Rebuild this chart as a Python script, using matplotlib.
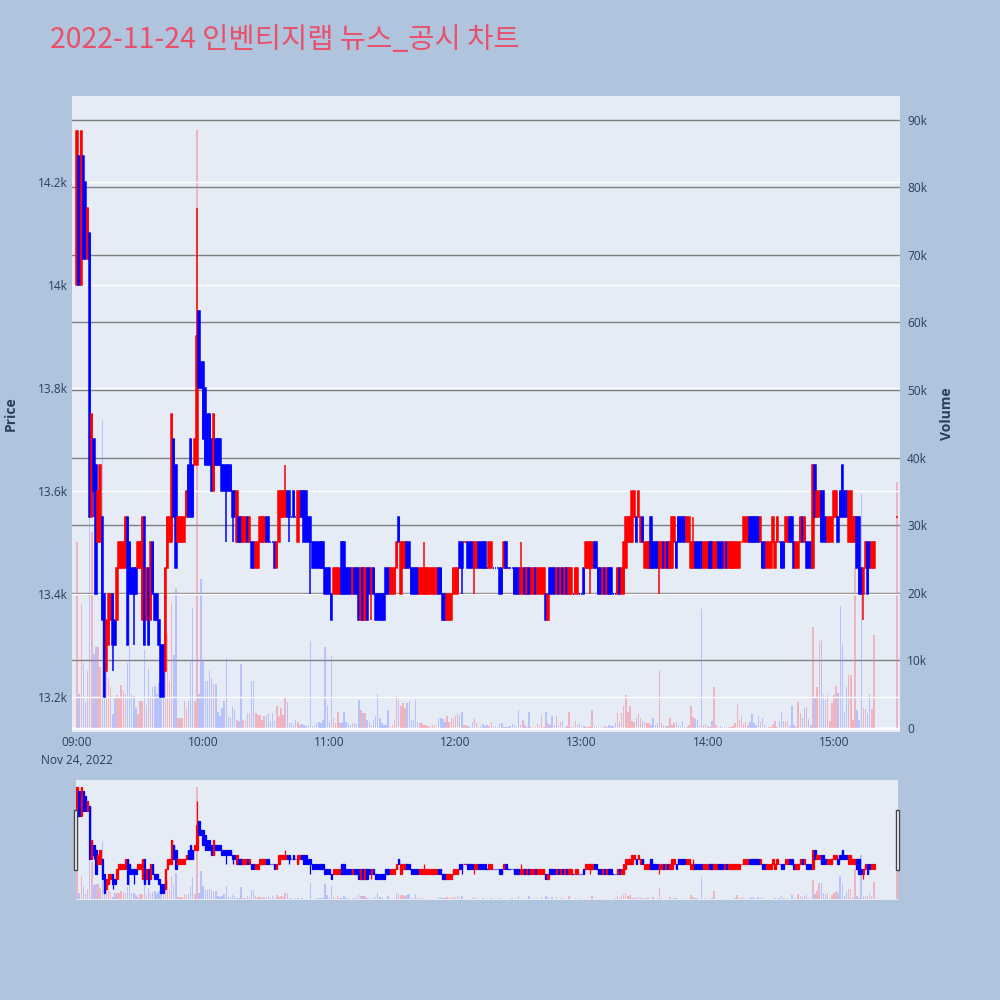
import matplotlib
matplotlib.use('Agg')
import matplotlib.pyplot as plt
import matplotlib.dates as mdates
from matplotlib.patches import Rectangle
from matplotlib.ticker import FuncFormatter, MultipleLocator
from datetime import datetime, timedelta
import pandas as pd

plt.rcParams['font.family'] = ['Open Sans', 'Noto Sans CJK KR', 'DejaVu Sans']

TITLE = '2022-11-24 인벤티지랩 뉴스_공시 차트'

# minute candles 09:00 - 15:19, plus the 15:30 closing auction
open_prices = [
    14000, 14250, 14000, 14250, 14200, 14050, 14100, 13550, 13700, 13650,
    13500, 13500, 13550, 13400, 13250, 13300, 13350, 13400, 13350, 13350,
    13450, 13450, 13450, 13450, 13550, 13500, 13450, 13450, 13450, 13450,
    13450, 13350, 13550, 13350, 13450, 13350, 13500, 13400, 13400, 13350,
    13300, 13300, 13250, 13450, 13500, 13500, 13700, 13650, 13500, 13500,
    13500, 13500, 13550, 13650, 13700, 13650, 13650, 13650, 13950, 13850,
    13850, 13800, 13750, 13750, 13700, 13600, 13700, 13700, 13700, 13650,
    13650, 13650, 13650, 13650, 13600, 13600, 13500, 13550, 13550, 13500,
    13500, 13550, 13500, 13500, 13500, 13450, 13450, 13500, 13500, 13500,
    13550, 13550, 13500, 13500, 13500, 13450, 13500, 13550, 13550, 13550,
    13600, 13600, 13550, 13600, 13550, 13500, 13550, 13600, 13600, 13600,
    13550, 13550, 13500, 13500, 13500, 13500, 13500, 13500, 13450, 13450,
    13450, 13400, 13400, 13400, 13400, 13400, 13500, 13500, 13450, 13450,
    13450, 13400, 13450, 13450, 13450, 13350, 13450, 13350, 13450, 13450,
    13400, 13450, 13400, 13400, 13400, 13400, 13400, 13450, 13450, 13400,
    13400, 13400, 13450, 13550, 13400, 13450, 13450, 13500, 13500, 13450,
    13450, 13450, 13450, 13400, 13400, 13400, 13400, 13400, 13400, 13400,
    13400, 13400, 13450, 13450, 13400, 13400, 13350, 13350, 13350, 13400,
    13400, 13400, 13500, 13500, 13500, 13500, 13500, 13500, 13500, 13450,
    13450, 13500, 13500, 13500, 13500, 13450, 13450, 13450, 13450, 13450,
    13450, 13450, 13450, 13450, 13500, 13450, 13450, 13450, 13450, 13450,
    13450, 13400, 13400, 13450, 13400, 13450, 13400, 13400, 13450, 13400,
    13400, 13400, 13400, 13400, 13350, 13450, 13450, 13450, 13400, 13450,
    13400, 13450, 13400, 13450, 13400, 13400, 13400, 13400, 13400, 13400,
    13400, 13450, 13450, 13450, 13450, 13450, 13500, 13500, 13450, 13450,
    13400, 13450, 13400, 13450, 13450, 13400, 13400, 13400, 13450, 13400,
    13400, 13450, 13500, 13500, 13500, 13550, 13550, 13550, 13500, 13550,
    13450, 13450, 13450, 13550, 13500, 13500, 13500, 13450, 13450, 13500,
    13450, 13500, 13450, 13450, 13500, 13500, 13550, 13550, 13550, 13550,
    13500, 13500, 13450, 13450, 13500, 13500, 13500, 13500, 13450, 13450,
    13450, 13500, 13500, 13450, 13450, 13500, 13500, 13500, 13450, 13500,
    13450, 13450, 13450, 13450, 13450, 13450, 13500, 13500, 13500, 13500,
    13550, 13550, 13550, 13550, 13550, 13500, 13500, 13500, 13450, 13450,
    13450, 13500, 13450, 13500, 13500, 13500, 13500, 13500, 13500, 13550,
    13550, 13500, 13450, 13450, 13500, 13550, 13500, 13500, 13500, 13500,
    13450, 13650, 13550, 13550, 13600, 13600, 13550, 13500, 13500, 13500,
    13550, 13550, 13550, 13600, 13650, 13600, 13600, 13500, 13500, 13500,
    13500, 13550, 13550, 13450, 13400, 13450, 13500, 13500, 13450, 13450,
    13550,
]
close_prices = [
    14300, 14000, 14300, 14050, 14050, 14150, 13550, 13750, 13600, 13400,
    13600, 13650, 13350, 13200, 13350, 13400, 13400, 13300, 13300, 13450,
    13500, 13500, 13500, 13550, 13300, 13400, 13400, 13400, 13400, 13500,
    13500, 13550, 13300, 13450, 13300, 13500, 13400, 13350, 13350, 13300,
    13200, 13200, 13450, 13550, 13550, 13750, 13550, 13450, 13550, 13550,
    13550, 13550, 13600, 13550, 13550, 13550, 13700, 13900, 13800, 13800,
    13700, 13650, 13650, 13650, 13600, 13750, 13650, 13650, 13650, 13600,
    13600, 13600, 13600, 13600, 13550, 13550, 13600, 13500, 13500, 13550,
    13550, 13500, 13550, 13450, 13450, 13500, 13500, 13550, 13550, 13550,
    13500, 13500, 13500, 13500, 13450, 13500, 13600, 13600, 13600, 13600,
    13550, 13550, 13550, 13550, 13550, 13600, 13600, 13550, 13500, 13500,
    13500, 13500, 13450, 13450, 13450, 13450, 13450, 13450, 13400, 13400,
    13400, 13350, 13450, 13450, 13450, 13450, 13400, 13400, 13400, 13400,
    13400, 13450, 13400, 13400, 13350, 13450, 13350, 13450, 13350, 13400,
    13450, 13400, 13350, 13350, 13350, 13350, 13350, 13400, 13400, 13450,
    13450, 13450, 13500, 13500, 13500, 13500, 13500, 13450, 13450, 13400,
    13400, 13400, 13400, 13450, 13450, 13450, 13450, 13450, 13450, 13450,
    13450, 13450, 13400, 13400, 13350, 13350, 13400, 13400, 13400, 13450,
    13450, 13450, 13450, 13450, 13500, 13500, 13450, 13450, 13450, 13500,
    13500, 13450, 13450, 13450, 13450, 13450, 13500, 13500, 13450, 13450,
    13450, 13400, 13400, 13500, 13450, 13450, 13450, 13450, 13400, 13400,
    13400, 13450, 13450, 13400, 13450, 13400, 13450, 13450, 13400, 13450,
    13450, 13450, 13450, 13350, 13400, 13400, 13400, 13400, 13450, 13400,
    13450, 13400, 13450, 13400, 13450, 13450, 13400, 13450, 13450, 13400,
    13400, 13400, 13500, 13500, 13500, 13500, 13450, 13450, 13400, 13400,
    13450, 13400, 13450, 13400, 13400, 13400, 13400, 13450, 13400, 13450,
    13500, 13550, 13550, 13550, 13600, 13600, 13500, 13600, 13550, 13500,
    13500, 13500, 13500, 13450, 13450, 13450, 13450, 13500, 13500, 13450,
    13500, 13450, 13500, 13550, 13550, 13450, 13500, 13500, 13500, 13500,
    13550, 13550, 13500, 13500, 13450, 13450, 13450, 13450, 13500, 13500,
    13500, 13450, 13450, 13500, 13500, 13450, 13450, 13450, 13500, 13450,
    13500, 13500, 13500, 13500, 13500, 13500, 13500, 13550, 13550, 13550,
    13500, 13500, 13500, 13500, 13500, 13550, 13450, 13450, 13500, 13500,
    13500, 13550, 13500, 13550, 13500, 13450, 13450, 13550, 13550, 13500,
    13500, 13450, 13500, 13500, 13550, 13500, 13550, 13450, 13450, 13450,
    13650, 13550, 13600, 13600, 13500, 13500, 13500, 13550, 13550, 13550,
    13600, 13600, 13500, 13550, 13550, 13550, 13550, 13600, 13600, 13550,
    13550, 13450, 13400, 13400, 13450, 13500, 13400, 13450, 13500, 13500,
    13550,
]
# wicks that reach past the body (candle index -> price)
high_wicks = {57: 14150, 99: 13650, 165: 13500, 211: 13500, 293: 13550}
low_wicks = {8: 13550, 17: 13250, 27: 13300, 71: 13500, 74: 13500, 101: 13500,
             111: 13400, 140: 13350, 183: 13400, 189: 13400, 244: 13400,
             277: 13400, 374: 13350}

volumes = [
    27500, 5000, 18400, 9600, 3900, 8400, 31000, 29000, 11000, 12000,
    12000, 9000, 45500, 8000, 8400, 7400, 6000, 2000, 4600, 4900,
    4600, 6400, 5600, 5000, 9600, 27000, 5000, 4700, 3000, 2000,
    4000, 4000, 11600, 3400, 8700, 4600, 6000, 6200, 5000, 6600,
    8000, 5700, 13000, 14000, 7000, 18500, 10800, 20700, 1400, 1400,
    1400, 4000, 3000, 4000, 10000, 17800, 4000, 88400, 5000, 22000,
    10000, 7000, 7000, 8400, 7400, 6600, 6500, 2400, 1700, 2900,
    4000, 10300, 1700, 1400, 3100, 2700, 1200, 1000, 9500, 1200,
    1000, 2200, 2000, 7000, 7000, 2200, 1900, 1900, 1200, 1700,
    1900, 2200, 900, 2200, 1000, 3200, 1700, 2900, 1900, 4600,
    3900, 700, 800, 500, 1200, 900, 500, 600, 500, 300,
    400, 12800, 300, 400, 700, 900, 800, 1200, 12000, 3400,
    900, 10700, 1400, 700, 2400, 700, 800, 2400, 900, 700,
    450, 700, 800, 600, 4200, 2700, 2200, 2200, 1200, 900,
    450, 1200, 1700, 5000, 1400, 700, 450, 450, 2700, 300,
    450, 1200, 4800, 4000, 3200, 3700, 2900, 3700, 4000, 1200,
    1200, 4200, 900, 800, 700, 450, 450, 300, 300, 450,
    450, 200, 1400, 1400, 1300, 900, 1700, 900, 1400, 1400,
    1700, 2200, 1900, 2400, 450, 450, 300, 200, 900, 1400,
    700, 200, 300, 600, 300, 500, 300, 900, 200, 300,
    200, 800, 700, 100, 100, 200, 300, 600, 450, 300,
    2700, 450, 1200, 450, 200, 2400, 200, 200, 200, 600,
    300, 1900, 200, 2300, 800, 450, 1800, 450, 1800, 450,
    900, 1100, 100, 300, 2300, 100, 300, 1100, 450, 600,
    200, 300, 200, 100, 300, 2600, 300, 200, 100, 200,
    300, 300, 200, 450, 300, 300, 700, 2200, 900, 2200,
    3200, 4900, 2400, 3200, 1100, 900, 1400, 2100, 1400, 1100,
    900, 800, 700, 450, 1400, 450, 700, 8500, 800, 450,
    300, 300, 1400, 450, 700, 900, 450, 300, 1100, 200,
    200, 450, 3200, 1600, 1300, 1200, 300, 17600, 450, 600,
    300, 200, 1100, 6100, 450, 100, 300, 100, 100, 200,
    100, 200, 300, 800, 3600, 1200, 1700, 600, 900, 450,
    900, 2100, 800, 450, 1800, 900, 1400, 450, 200, 100,
    200, 450, 1000, 200, 1100, 2400, 1100, 1100, 1100, 300,
    3200, 450, 200, 3900, 2200, 1400, 2900, 3100, 1300, 450,
    15000, 4400, 6100, 12800, 13000, 4900, 4200, 4900, 1000, 3700,
    4900, 6200, 5200, 18000, 12500, 2400, 6000, 8000, 7900, 1200,
    23700, 2700, 1200, 34600, 2900, 2800, 2200, 5000, 2800, 13700,
    36400,
]

times = pd.date_range('2022-11-24 09:00', periods=380, freq='min').to_pydatetime().tolist()
times.append(datetime(2022, 11, 24, 15, 30))

highs = [max(o, c, high_wicks.get(i, 0)) for i, (o, c) in enumerate(zip(open_prices, close_prices))]
lows = [min(o, c, low_wicks.get(i, 10 ** 9)) for i, (o, c) in enumerate(zip(open_prices, close_prices))]

UP = '#ff0000'
DOWN = '#0000ff'
# plotly rule: flat candles follow the previous close / previous direction
colors = []
prev_close, prev_col = None, DOWN
for o, c in zip(open_prices, close_prices):
    if c > o:
        col = UP
    elif c < o:
        col = DOWN
    elif prev_close is not None and c > prev_close:
        col = UP
    elif prev_close is not None and c < prev_close:
        col = DOWN
    else:
        col = prev_col
    colors.append(col)
    prev_close, prev_col = c, col
vol_colors = ['#ff7080' if col == UP else '#8090ff' for col in colors]

bottoms = [min(o, c) for o, c in zip(open_prices, close_prices)]
heights = [abs(c - o) for o, c in zip(open_prices, close_prices)]

TEXT = '#2a3f5f'
PLOT_BG = '#E5ECF6'
PRICE_LIM = (13132, 14367)
VOL_LIM = (-600, 93500)


def draw(ax_p, ax_v, lw):
    ax_v.bar(times, volumes, width=timedelta(seconds=42), color=vol_colors,
             alpha=0.45, linewidth=0, zorder=2)
    ax_p.vlines(times, lows, highs, colors=colors, linewidth=lw, zorder=3)
    ax_p.bar(times, heights, bottom=bottoms, width=timedelta(seconds=40),
             color=colors, edgecolor=colors, linewidth=lw, zorder=4)
    ax_p.set_ylim(*PRICE_LIM)
    ax_v.set_ylim(*VOL_LIM)


fig = plt.figure(figsize=(10, 10), dpi=100, facecolor='#B0C4DE')

# main chart
ax_v = fig.add_axes([0.072, 0.268, 0.828, 0.636])
ax_v.set_facecolor(PLOT_BG)
ax = ax_v.twinx()
ax.patch.set_visible(False)
draw(ax, ax_v, 1.1)

ax.set_xlim(datetime(2022, 11, 24, 8, 57, 36), datetime(2022, 11, 24, 15, 31, 24))

ax.yaxis.tick_left()
ax.yaxis.set_label_position('left')
ax_v.yaxis.tick_right()
ax_v.yaxis.set_label_position('right')

ax.yaxis.set_major_locator(MultipleLocator(200))
ax.yaxis.set_major_formatter(FuncFormatter(lambda v, p: f'{v / 1000:g}k'))
ax_v.yaxis.set_major_locator(MultipleLocator(10000))
ax_v.yaxis.set_major_formatter(FuncFormatter(lambda v, p: '0' if v == 0 else f'{v / 1000:g}k'))

ax_v.set_axisbelow(True)
ax_v.yaxis.grid(True, color='#808080', linewidth=1)
ax_v.axhline(0, color='white', linewidth=2, zorder=1)
ax.set_axisbelow(True)
ax.yaxis.grid(True, color='white', linewidth=1)

ax_v.xaxis.set_major_locator(mdates.HourLocator())
ax_v.xaxis.set_major_formatter(mdates.DateFormatter('%H:%M'))

for a in (ax, ax_v):
    for s in a.spines.values():
        s.set_visible(False)
    a.tick_params(length=0, labelsize=8.6, labelcolor=TEXT)
ax.tick_params(axis='y', pad=3)
ax_v.tick_params(axis='y', pad=5)
ax_v.tick_params(axis='x', pad=3)

ax.text(datetime(2022, 11, 24, 9, 0), -0.034, 'Nov 24, 2022', ha='center', va='top',
        fontsize=8.6, color=TEXT, transform=ax.get_xaxis_transform())

ax.set_ylabel('Price', fontsize=10, fontweight='bold', color=TEXT)
ax.yaxis.set_label_coords(-0.066, 0.5)
ax_v.set_ylabel('Volume', fontsize=10, fontweight='bold', color=TEXT)
ax_v.yaxis.set_label_coords(1.048, 0.5)

fig.text(0.05, 0.96, TITLE, fontsize=20.5, color='#E9506A', va='center', ha='left',
         family=['Noto Sans CJK KR', 'DejaVu Sans'])

# range slider
sl_v = fig.add_axes([0.076, 0.100, 0.822, 0.120])
sl_v.set_facecolor(PLOT_BG)
sl = sl_v.twinx()
sl.patch.set_visible(False)
draw(sl, sl_v, 0.9)
sl.set_xlim(datetime(2022, 11, 24, 8, 59, 30), datetime(2022, 11, 24, 15, 30, 30))
for a in (sl, sl_v):
    for s in a.spines.values():
        s.set_visible(False)
    a.set_xticks([])
    a.set_yticks([])

for hx in (0.0735, 0.8955):
    fig.patches.append(Rectangle((hx, 0.130), 0.0035, 0.060, transform=fig.transFigure,
                                 facecolor='white', edgecolor='#444444', linewidth=1))

fig.savefig('out.png', dpi=100, facecolor=fig.get_facecolor())
